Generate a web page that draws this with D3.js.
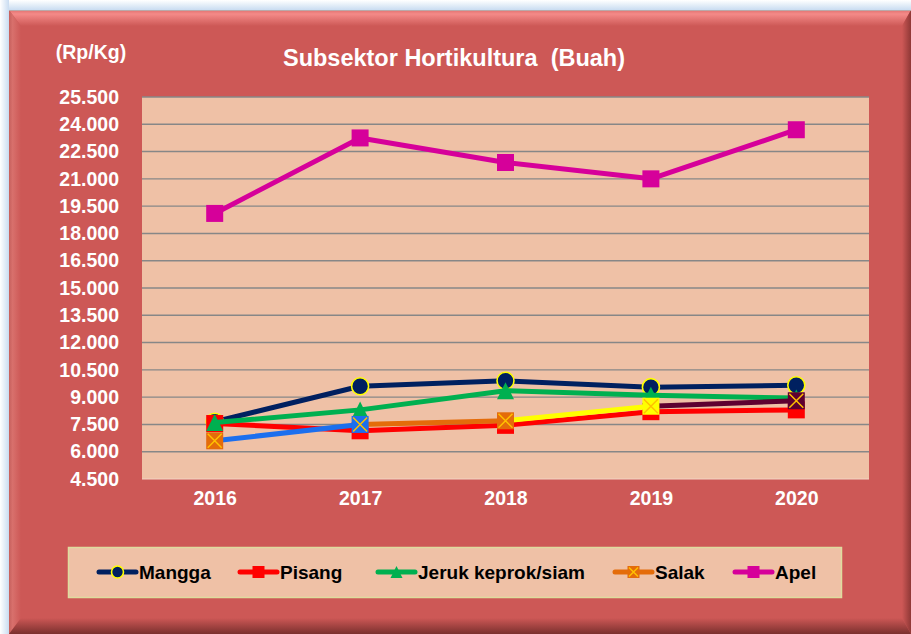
<!DOCTYPE html>
<html>
<head>
<meta charset="utf-8">
<script src="https://cdn.jsdelivr.net/npm/d3@7"></script>
<style>
  body { margin: 0; background: #fff; }
  svg text { font-family: "Liberation Sans", Arial, sans-serif; font-weight: bold; }
</style>
</head>
<body>
<div id="chart"></div>
<script>
// data
const years = ['2016', '2017', '2018', '2019', '2020']
const mangga = [7650, 9600, 9900, 9550, 9650]
const pisang = [7550, 7150, 7450, 8200, 8300]
const jeruk = [7600, 8300, 9350, 9100, 8950]
const salak = [6600, 7500, 7700, 8500, 8800]
const apel = [19100, 23250, 21900, 21000, 23700]
const yTicks = [4500, 6000, 7500, 9000, 10500, 12000, 13500, 15000, 16500, 18000, 19500, 21000, 22500, 24000, 25500]
const seriesNames = ['Mangga', 'Pisang', 'Jeruk keprok/siam', 'Salak', 'Apel']

const width = 911
const height = 634
const plot = { left: 142, right: 869, top: 97, bottom: 479 }

const BG = '#cd5856'
const PLOT_BG = '#efc1a6'

// per-point colours of the Salak series (each segment takes the colour of the point it ends on)
const SALAK_POINT_COLORS = ['#e46c0a', '#1c6fee', '#e46c0a', '#ffff00', '#5e0030']

const series = [
	{ name: seriesNames[0], values: mangga, color: '#002060', marker: 'circle' },
	{ name: seriesNames[1], values: pisang, color: '#ff0000', marker: 'square' },
	{ name: seriesNames[2], values: jeruk, color: '#00b050', marker: 'triangle' },
	{ name: seriesNames[3], values: salak, color: '#e46c0a', marker: 'xsquare', pointColors: SALAK_POINT_COLORS },
	{ name: seriesNames[4], values: apel, color: '#d6009a', marker: 'square' },
]

const svg = d3.select('#chart')
	.append('svg')
	.attr('width', width)
	.attr('height', height)

const defs = svg.append('defs')
const grad = (id, x1, y1, x2, y2, stops) => {
	const g = defs.append('linearGradient').attr('id', id)
		.attr('x1', x1).attr('y1', y1).attr('x2', x2).attr('y2', y2)
	stops.forEach(([o, c]) => g.append('stop').attr('offset', o).attr('stop-color', c))
}
grad('glowTop', 0, 0, 0, 1, [[0, '#ffffff'], [1, '#c9dcf1']])
grad('glowLeft', 0, 0, 1, 0, [[0, '#ffffff'], [1, '#c9dcf1']])
grad('bevTop', 0, 0, 0, 1, [[0, '#e07270'], [0.25, '#f48a88'], [1, BG]])
grad('bevLeft', 0, 0, 1, 0, [[0, '#c6605d'], [0.3, '#d8706c'], [1, BG]])
grad('bevRight', 0, 0, 1, 0, [[0, BG], [1, '#8f3836']])
grad('bevBottom', 0, 0, 0, 1, [[0, BG], [1, '#7a302e']])

// outer glow of the frame
svg.append('rect').attr('x', 0).attr('y', 0).attr('width', width).attr('height', 10).attr('fill', 'url(#glowTop)')
svg.append('rect').attr('x', 0).attr('y', 0).attr('width', 9).attr('height', height).attr('fill', 'url(#glowLeft)')

// bevelled chart frame
const fx0 = 9, fy0 = 10, fx1 = 911, fy1 = 634
const ix0 = 21, iy0 = 26, ix1 = 902, iy1 = 618
svg.append('rect').attr('x', fx0).attr('y', fy0).attr('width', fx1 - fx0).attr('height', fy1 - fy0).attr('fill', BG)
const poly = pts => pts.map(p => p.join(',')).join(' ')
svg.append('polygon').attr('points', poly([[fx0, fy0], [fx1, fy0], [ix1, iy0], [ix0, iy0]])).attr('fill', 'url(#bevTop)')
svg.append('polygon').attr('points', poly([[fx0, fy0], [ix0, iy0], [ix0, iy1], [fx0, fy1]])).attr('fill', 'url(#bevLeft)')
svg.append('polygon').attr('points', poly([[fx1, fy0], [fx1, fy1], [ix1, iy1], [ix1, iy0]])).attr('fill', 'url(#bevRight)')
svg.append('polygon').attr('points', poly([[fx0, fy1], [ix0, iy1], [ix1, iy1], [fx1, fy1]])).attr('fill', 'url(#bevBottom)')
svg.append('line').attr('x1', fx0).attr('x2', fx1).attr('y1', fy0 + 0.5).attr('y2', fy0 + 0.5).attr('stroke', '#b9a9a9')

// scales
const x = d3.scalePoint()
	.domain(years)
	.range([plot.left, plot.right])
	.padding(0.5)

const y = d3.scaleLinear()
	.domain([4500, 25500])
	.range([plot.bottom, plot.top])

const idLocale = d3.formatLocale({ decimal: ',', thousands: '.', grouping: [3], currency: ['Rp', ''] })
const fmt = idLocale.format(',.0f')

// plot area
svg.append('rect')
	.attr('x', plot.left).attr('y', plot.top)
	.attr('width', plot.right - plot.left).attr('height', plot.bottom - plot.top)
	.attr('fill', PLOT_BG)

// gridlines
svg.append('g')
	.selectAll('line')
	.data(yTicks.filter(t => t > 4500))
	.join('line')
	.attr('x1', plot.left).attr('x2', plot.right)
	.attr('y1', d => y(d)).attr('y2', d => y(d))
	.attr('stroke', '#878787')
	.attr('stroke-width', 1.4)

svg.append('line')
	.attr('x1', plot.left).attr('x2', plot.right)
	.attr('y1', plot.bottom).attr('y2', plot.bottom)
	.attr('stroke', '#f3d3c3').attr('stroke-width', 1.2)

// y axis labels
const yAxis = svg.append('g')
	.attr('transform', `translate(${plot.left},0)`)
	.call(d3.axisLeft(y).tickValues(yTicks).tickFormat(fmt).tickSize(0).tickPadding(23))
yAxis.select('.domain').remove()
yAxis.selectAll('text')
	.attr('fill', '#fff')
	.style('font-size', '19.5px')
	.style('font-family', '"Liberation Sans", Arial, sans-serif')
	.style('font-weight', 'bold')

// x axis labels
const xAxis = svg.append('g')
	.attr('transform', `translate(0,${plot.bottom})`)
	.call(d3.axisBottom(x).tickSize(0).tickPadding(12))
xAxis.select('.domain').remove()
xAxis.selectAll('text')
	.attr('fill', '#fff')
	.style('font-size', '19.5px')
	.style('font-family', '"Liberation Sans", Arial, sans-serif')
	.style('font-weight', 'bold')

// title and unit
svg.append('text')
	.attr('x', 454).attr('y', 66)
	.attr('text-anchor', 'middle')
	.attr('fill', '#fff')
	.style('font-size', '23.5px')
	.style('white-space', 'pre')
	.text('Subsektor Hortikultura  (Buah)')

svg.append('text')
	.attr('x', 91).attr('y', 59)
	.attr('text-anchor', 'middle')
	.attr('fill', '#fff')
	.style('font-size', '19.5px')
	.text('(Rp/Kg)')

// markers
const drawMarker = (g, type, cx, cy, color, size) => {
	const h = size / 2
	if (type === 'circle') {
		g.append('circle').attr('cx', cx).attr('cy', cy).attr('r', h)
			.attr('fill', color).attr('stroke', '#ffff00').attr('stroke-width', 1.6)
	} else if (type === 'square') {
		g.append('rect').attr('x', cx - h).attr('y', cy - h).attr('width', size).attr('height', size)
			.attr('fill', color)
	} else if (type === 'triangle') {
		g.append('path')
			.attr('d', `M${cx},${cy - h}L${cx + h},${cy + h}L${cx - h},${cy + h}Z`)
			.attr('fill', color)
	} else if (type === 'xsquare') {
		g.append('rect').attr('x', cx - h).attr('y', cy - h).attr('width', size).attr('height', size)
			.attr('fill', color)
		const k = h - 1.5
		g.append('path')
			.attr('d', `M${cx - k},${cy - k}L${cx + k},${cy + k}M${cx + k},${cy - k}L${cx - k},${cy + k}`)
			.attr('stroke', '#ffc000').attr('stroke-width', 1.5)
	}
}

const line = d3.line()
	.x((d, i) => x(years[i]))
	.y(d => y(d))

const MARKER_SIZE = 17
series.forEach(s => {
	const g = svg.append('g')
	if (s.pointColors) {
		// one segment per point so each can carry its own colour
		d3.pairs(s.values.map((v, i) => [x(years[i]), y(v)])).forEach(([a, b], i) => {
			g.append('line')
				.attr('x1', a[0]).attr('y1', a[1]).attr('x2', b[0]).attr('y2', b[1])
				.attr('stroke', s.pointColors[i + 1])
				.attr('stroke-width', 5)
				.attr('stroke-linecap', 'round')
		})
	} else {
		g.append('path')
			.attr('d', line(s.values))
			.attr('fill', 'none')
			.attr('stroke', s.color)
			.attr('stroke-width', 5)
			.attr('stroke-linejoin', 'round')
			.attr('stroke-linecap', 'round')
	}
	s.values.forEach((v, i) => {
		const c = s.pointColors ? s.pointColors[i] : s.color
		drawMarker(g, s.marker, x(years[i]), y(v), c, MARKER_SIZE)
	})
})

// legend
const legend = svg.append('g')
legend.append('rect')
	.attr('x', 68.5).attr('y', 547.5).attr('width', 773).attr('height', 50)
	.attr('fill', PLOT_BG)
	.attr('stroke', '#dedc9e')
	.attr('stroke-width', 1.5)

const legendX = [97, 238, 376, 613, 733]
const legendY = 572
series.forEach((s, i) => {
	const g = legend.append('g')
	const x0 = legendX[i]
	g.append('line')
		.attr('x1', x0 + 2).attr('x2', x0 + 39)
		.attr('y1', legendY).attr('y2', legendY)
		.attr('stroke', s.color).attr('stroke-width', 5).attr('stroke-linecap', 'round')
	drawMarker(g, s.marker, x0 + 20.5, legendY, s.color, 12)
	g.append('text')
		.attr('x', x0 + 42).attr('y', legendY)
		.attr('dy', '0.35em')
		.attr('fill', '#000')
		.style('font-size', '19px')
		.text(s.name)
})
</script>
</body>
</html>
